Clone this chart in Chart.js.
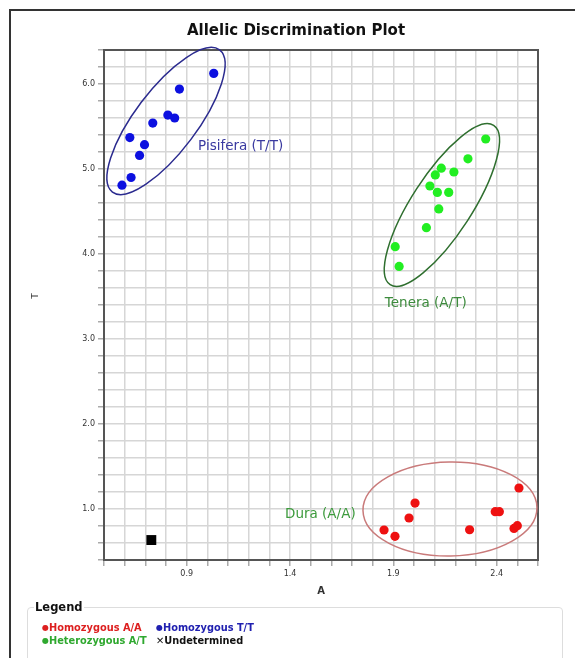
<!DOCTYPE html>
<html>
<head>
<meta charset="utf-8">
<style>
  * { margin: 0; padding: 0; box-sizing: border-box; }
  body { width: 575px; height: 658px; background: #fff; position: relative; overflow: hidden; }
  .frame {
    position: absolute; left: 9px; top: 9px; width: 700px; height: 800px;
    border-left: 2px solid #333; border-top: 2px solid #333;
  }
  #chartBox { position: absolute; left: 0; top: 0; width: 575px; height: 658px; }
  fieldset.legend {
    position: absolute; left: 27px; top: 600px; width: 536px; height: 80px;
    border: 1px solid #ddd; border-radius: 4px; padding: 0 0 0 14px;
    font-family: "DejaVu Sans", sans-serif; font-weight: bold; font-size: 9.8px;
  }
  fieldset.legend legend {
    font-family: "DejaVu Sans", sans-serif; font-size: 11.5px; font-weight: bold;
    color: #111; padding: 0 1px; margin-left: -8px;
  }
  .row { height: 13px; line-height: 13px; white-space: nowrap; }
  .item { display: inline-block; width: 114px; }
  .dot { font-size: 8px; vertical-align: 1px; }
</style>
</head>
<body>
<div class="frame"></div>
<div id="chartBox"><canvas id="myChart" width="575" height="658"></canvas></div>
<fieldset class="legend">
  <legend>Legend</legend>
  <div class="row" style="margin-top:7px">
    <span class="item" style="color:#dd1f1f"><span class="dot">&#9679;</span>Homozygous A/A</span><span class="item" style="color:#2020b0"><span class="dot">&#9679;</span>Homozygous T/T</span>
  </div>
  <div class="row">
    <span class="item" style="color:#2fa82f"><span class="dot">&#9679;</span>Heterozygous A/T</span><span class="item" style="color:#111">&#10005;Undetermined</span>
  </div>
</fieldset>

<script src="https://cdn.jsdelivr.net/npm/chart.js/dist/chart.umd.min.js"></script>
<script>
  // allele signals
  const aaA = [2.508, 2.005, 1.976, 1.855, 1.908, 2.393, 2.413, 2.269, 2.484, 2.500];
  const aaT = [1.247, 1.070, 0.894, 0.753, 0.678, 0.968, 0.968, 0.756, 0.772, 0.804];
  const ttA = [1.031, 0.865, 0.809, 0.842, 0.736, 0.625, 0.696, 0.672, 0.631, 0.587];
  const ttT = [6.125, 5.940, 5.635, 5.600, 5.540, 5.370, 5.286, 5.160, 4.900, 4.810];
  const atA = [2.347, 2.261, 2.132, 2.193, 2.103, 2.077, 2.113, 2.168, 2.120, 2.060, 1.909, 1.928];
  const atT = [5.353, 5.120, 5.010, 4.965, 4.930, 4.800, 4.725, 4.725, 4.530, 4.310, 4.086, 3.854];
  const undA = [0.729];
  const undT = [0.635];

  const xTickLabels = ['0.9', '1.4', '1.9', '2.4'];
  const yTickLabels = ['1.0', '2.0', '3.0', '4.0', '5.0', '6.0'];

  // cluster circles: centre in data units
  const clusters = [
    { name: 'Pisifera (T/T)', cx: 0.80, cy: 5.565, rx: 89, ry: 31, rot: -53, color: '#2b2b8f', lx: 0.955, ly: 5.26, lcolor: '#3a3aa0' },
    { name: 'Tenera (A/T)', cx: 2.135, cy: 4.576, rx: 95, ry: 30, rot: -57, color: '#2f6f2f', lx: 1.859, ly: 3.42, lcolor: '#3d8b3d' },
    { name: 'Dura (A/A)', cx: 2.174, cy: 1.0, rx: 87, ry: 47, rot: -1, color: '#c97a7a', lx: 1.376, ly: 0.93, lcolor: '#3d9b3d' }
  ];

  const pts = (xs, ys) => xs.map((x, i) => ({ x: x, y: ys[i] }));

  const plotDecor = {
    id: 'plotDecor',
    beforeDatasetsDraw(chart) {
      const { ctx, chartArea: a } = chart;
      ctx.save();
      ctx.strokeStyle = '#555';
      ctx.lineWidth = 2;
      ctx.strokeRect(a.left, a.top, a.right - a.left, a.bottom - a.top);
      ctx.restore();
    },
    afterDatasetsDraw(chart) {
      const { ctx, scales: { x, y } } = chart;
      ctx.save();
      clusters.forEach(c => {
        ctx.beginPath();
        ctx.ellipse(x.getPixelForValue(c.cx), y.getPixelForValue(c.cy), c.rx, c.ry, c.rot * Math.PI / 180, 0, Math.PI * 2);
        ctx.strokeStyle = c.color;
        ctx.lineWidth = 1.5;
        ctx.stroke();
        ctx.font = '13.5px "DejaVu Sans"';
        ctx.fillStyle = c.lcolor;
        ctx.textBaseline = 'middle';
        ctx.textAlign = 'left';
        ctx.fillText(c.name, x.getPixelForValue(c.lx), y.getPixelForValue(c.ly));
      });
      ctx.restore();
    },
    afterDraw(chart) {
      const { ctx, chartArea: a } = chart;
      ctx.save();
      ctx.fillStyle = '#111';
      ctx.font = 'bold 15px "DejaVu Sans"';
      ctx.textAlign = 'center';
      ctx.textBaseline = 'alphabetic';
      ctx.fillText('Allelic Discrimination Plot', 296, 35);
      ctx.font = 'bold 10px "DejaVu Sans"';
      ctx.fillStyle = '#333';
      ctx.textBaseline = 'middle';
      ctx.fillText('A', (a.left + a.right) / 2, 591);
      ctx.translate(36, 296);
      ctx.rotate(-Math.PI / 2);
      ctx.font = '9px "DejaVu Sans"';
      ctx.fillText('T', 0, 0);
      ctx.restore();
    }
  };

  const myChart = new Chart(document.getElementById('myChart'), {
    type: 'scatter',
    data: {
      datasets: [
        { label: 'Homozygous A/A', data: pts(aaA, aaT), backgroundColor: '#ee1111', pointRadius: 4.6, borderWidth: 0 },
        { label: 'Homozygous T/T', data: pts(ttA, ttT), backgroundColor: '#0c10e0', pointRadius: 4.6, borderWidth: 0 },
        { label: 'Heterozygous A/T', data: pts(atA, atT), backgroundColor: '#22ee22', pointRadius: 4.6, borderWidth: 0 },
        { label: 'Undetermined', data: pts(undA, undT), backgroundColor: '#000', pointStyle: 'rect', pointRadius: 7, borderWidth: 0 }
      ]
    },
    options: {
      responsive: false,
      animation: false,
      layout: { padding: { top: 50, left: 0, right: 37, bottom: 58 } },
      plugins: { legend: { display: false }, tooltip: { enabled: false }, title: { display: false } },
      scales: {
        x: {
          type: 'linear', min: 0.5, max: 2.6,
          afterFit: s => { s.height = 40; },
          afterBuildTicks: s => {
            const t = [];
            for (let i = 5; i <= 26; i++) t.push({ value: i / 10 });
            s.ticks = t;
          },
          grid: { color: '#d6d6d6', lineWidth: 1.5, tickLength: 6, tickColor: '#aaa' },
          border: { color: '#555', width: 2 },
          ticks: {
            autoSkip: false, maxRotation: 0, padding: 3,
            color: '#333', font: { family: 'DejaVu Sans', size: 8 },
            callback: v => xTickLabels.includes(v.toFixed(1)) ? v.toFixed(1) : ''
          }
        },
        y: {
          type: 'linear', min: 0.4, max: 6.4,
          afterFit: s => { s.width = 104; },
          afterBuildTicks: s => {
            const t = [];
            for (let i = 2; i <= 32; i++) t.push({ value: i / 5 });
            s.ticks = t;
          },
          grid: { color: '#d6d6d6', lineWidth: 1.5, tickLength: 6, tickColor: '#aaa' },
          border: { color: '#555', width: 2 },
          ticks: {
            autoSkip: false, padding: 3,
            color: '#333', font: { family: 'DejaVu Sans', size: 8 },
            callback: v => yTickLabels.includes(v.toFixed(1)) ? v.toFixed(1) : ''
          }
        }
      }
    },
    plugins: [plotDecor]
  });
</script>
</body>
</html>
